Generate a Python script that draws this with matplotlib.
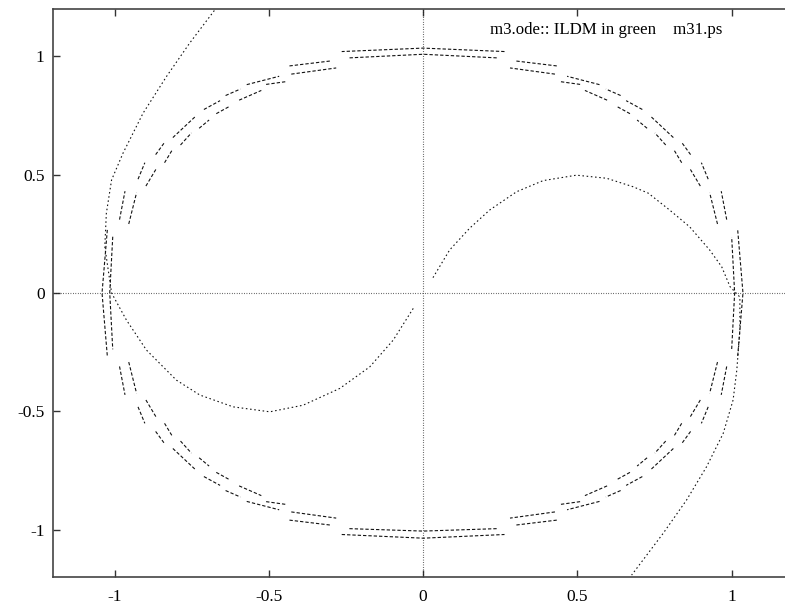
import numpy as np
import matplotlib.pyplot as plt

# trajectory leaving the origin towards +x, then running down past (1, 0)
traj_a_x = [0.032, 0.086, 0.151, 0.216, 0.303, 0.389, 0.497, 0.595, 0.681, 0.730,
            0.799, 0.864, 0.929, 0.968, 0.995, 1.027, 1.027, 1.017, 1.005, 0.973,
            0.919, 0.854, 0.778, 0.676]
traj_a_y = [0.065, 0.182, 0.274, 0.351, 0.428, 0.475, 0.498, 0.485, 0.449, 0.422,
            0.351, 0.280, 0.182, 0.111, 0.027, -0.017, -0.156, -0.326, -0.452, -0.593,
            -0.734, -0.875, -1.016, -1.192]

# trajectory leaving the origin towards -x, then running up past (-1, 0)
traj_b_x = [-0.032, -0.097, -0.173, -0.270, -0.389, -0.497, -0.616, -0.724, -0.800,
            -0.897, -0.962, -1.010, -1.032, -1.027, -1.010, -0.973, -0.908, -0.832,
            -0.757, -0.675]
traj_b_y = [-0.065, -0.199, -0.312, -0.403, -0.474, -0.502, -0.481, -0.431, -0.368,
            -0.241, -0.114, 0.000, 0.196, 0.337, 0.478, 0.591, 0.760, 0.915,
            1.056, 1.197]

# ILDM pieces, outer band: node angles (deg) and radii per piece
ildm_outer_theta = [
    # top, right side, left side, bottom
    [75.5, 90, 104.5], [-14.6, 0, 14.6], [165.4, 180, 194.6], [255.5, 270, 284.5],
    # first quadrant
    [17.5, 24], [27.5, 31.4], [34, 37], [39, 45.5], [47.5, 51], [52.5, 55.5], [57, 63], [65.7, 73.2],
    # second quadrant
    [162.5, 156], [152.5, 148.6], [146, 143], [141, 134.5], [132.5, 129], [127.5, 124.5],
    [123, 117], [114.3, 106.8],
    # third quadrant
    [197.5, 204], [207.5, 211.4], [214, 217], [219, 225.5], [227.5, 231], [232.5, 235.5],
    [237, 243], [245.7, 253.2],
    # fourth quadrant
    [342.5, 336], [332.5, 328.6], [326, 323], [321, 314.5], [312.5, 309], [307.5, 304.5],
    [303, 297], [294.3, 286.8],
]
ildm_outer_r = [
    [1.054, 1.035, 1.054], [1.054, 1.037, 1.054], [1.058, 1.041, 1.058], [1.054, 1.036, 1.054],
    [1.032, 1.058], [1.042, 1.057], [1.046, 1.052], [1.044, 1.050], [1.052, 1.046],
    [1.052, 1.046], [1.050, 1.028], [1.053, 1.025],
    [1.032, 1.058], [1.042, 1.057], [1.046, 1.052], [1.044, 1.050], [1.052, 1.046],
    [1.052, 1.046], [1.050, 1.028], [1.053, 1.025],
    [1.032, 1.058], [1.042, 1.057], [1.046, 1.052], [1.044, 1.050], [1.052, 1.046],
    [1.052, 1.046], [1.050, 1.028], [1.053, 1.025],
    [1.032, 1.058], [1.042, 1.057], [1.046, 1.052], [1.044, 1.050], [1.052, 1.046],
    [1.052, 1.046], [1.050, 1.028], [1.053, 1.025],
]

# ILDM pieces, inner band
ildm_inner_theta = [
    [76.5, 90, 103.5], [-13.3, 0, 13.3], [166.7, 180, 193.3], [256.5, 270, 283.5],
    [17, 24.5], [26.7, 31.2], [33.3, 36.5], [38.5, 42], [43.8, 46.5], [48.5, 51.5],
    [53.8, 58.5], [60, 63.5], [65.2, 73.5],
    [163, 155.5], [153.3, 148.8], [146.7, 143.5], [141.5, 138], [136.2, 133.5],
    [131.5, 128.5], [126.2, 121.5], [120, 116.5], [114.8, 106.5],
    [197, 204.5], [206.7, 211.2], [213.3, 216.5], [218.5, 222], [223.8, 226.5],
    [228.5, 231.5], [233.8, 238.5], [240, 243.5], [245.2, 253.5],
    [343, 335.5], [333.3, 328.8], [326.7, 323.5], [321.5, 318], [316.2, 313.5],
    [311.5, 308.5], [306.2, 301.5], [300, 296.5], [294.8, 286.5],
]
ildm_inner_r = [
    [1.022, 1.009, 1.022], [1.028, 1.010, 1.028], [1.034, 1.016, 1.034], [1.024, 1.006, 1.024],
    [0.998, 1.021], [1.006, 1.012], [1.003, 1.013], [1.005, 1.011], [1.006, 1.008],
    [1.012, 1.008], [1.010, 1.004], [1.018, 0.998], [1.019, 0.992],
    [0.998, 1.021], [1.006, 1.012], [1.003, 1.013], [1.005, 1.011], [1.006, 1.008],
    [1.012, 1.008], [1.010, 1.004], [1.018, 0.998], [1.019, 0.992],
    [0.998, 1.021], [1.006, 1.012], [1.003, 1.013], [1.005, 1.011], [1.006, 1.008],
    [1.012, 1.008], [1.010, 1.004], [1.018, 0.998], [1.019, 0.992],
    [0.998, 1.021], [1.006, 1.012], [1.003, 1.013], [1.005, 1.011], [1.006, 1.008],
    [1.012, 1.008], [1.010, 1.004], [1.018, 0.998], [1.019, 0.992],
]

xticks = [-1, -0.5, 0, 0.5, 1]
yticks = [-1, -0.5, 0, 0.5, 1]
tick_labels = ['-1', '-0.5', '0', '0.5', '1']

plt.rcParams['font.family'] = ['Liberation Serif', 'DejaVu Serif']

fig = plt.figure(figsize=(7.85, 6.12), dpi=100)
ax = fig.add_axes([0.0675, 0.0572, 0.943, 0.928])
ax.set_xlim(-1.2, 1.2)
ax.set_ylim(-1.2, 1.2)

# zero axes, dotted
ax.axhline(0, color='#222222', lw=0.8, ls=(0, (0.6, 1.6)))
ax.axvline(0, color='#222222', lw=0.8, ls=(0, (0.6, 1.6)))

# ILDM pieces: polar nodes -> x, y
for thetas, radii in zip(ildm_outer_theta + ildm_inner_theta, ildm_outer_r + ildm_inner_r):
    t = np.radians(thetas)
    r = np.array(radii)
    ax.plot(r * np.cos(t), r * np.sin(t), color='#111111', lw=0.8, ls=(0, (3.0, 1.8)))

ax.plot(traj_a_x, traj_a_y, color='#111111', lw=0.8, ls=(0, (1.4, 2.4)))
ax.plot(traj_b_x, traj_b_y, color='#111111', lw=0.8, ls=(0, (1.4, 2.4)))

ax.text(0.216, 1.11, 'm3.ode:: ILDM in green    m31.ps', fontsize=12.2, ha='left', va='center')

ax.set_xticks(xticks)
ax.set_xticklabels(tick_labels)
ax.set_yticks(yticks)
ax.set_yticklabels(tick_labels)
ax.tick_params(direction='in', length=5, width=1, color='#333333', labelsize=12.5,
               top=True, right=True)
ax.tick_params(axis='y', pad=6)
ax.tick_params(axis='x', pad=9)
for s in ax.spines.values():
    s.set_color('#444444')
    s.set_linewidth(1.2)

fig.savefig('out.png', dpi=100)
